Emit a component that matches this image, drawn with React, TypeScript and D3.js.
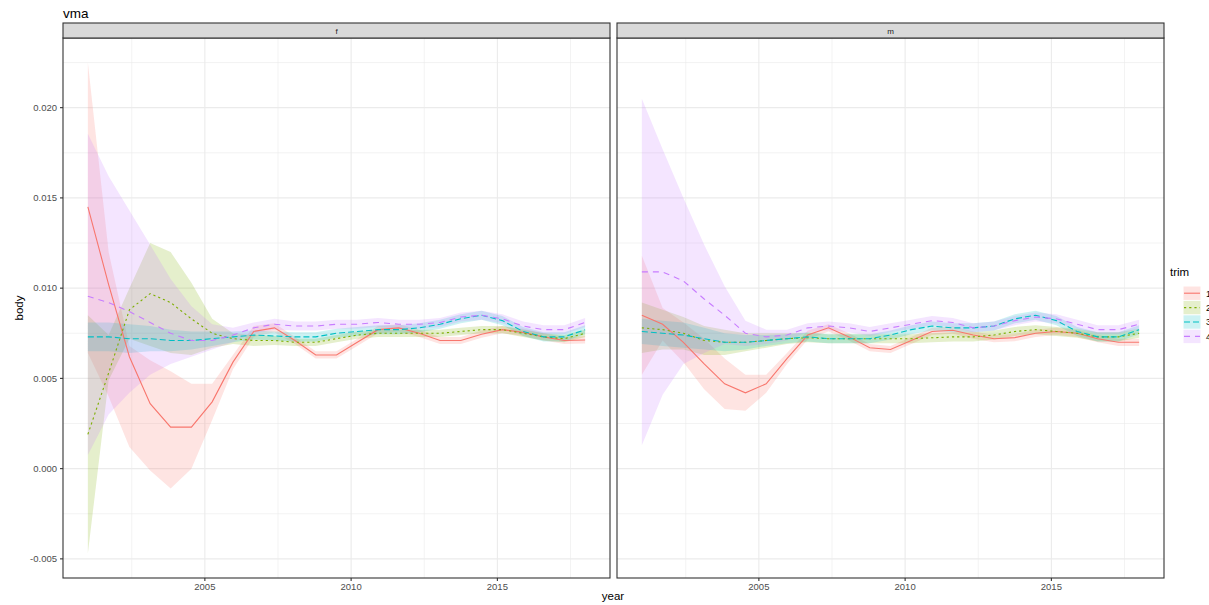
import React from 'react';
import * as d3 from 'd3';

// ---- data ----
const years = [2001.0, 2001.71, 2002.42, 2003.13, 2003.83, 2004.54, 2005.25, 2005.96, 2006.67, 2007.38, 2008.08, 2008.79, 2009.5, 2010.21, 2010.92, 2011.63, 2012.33, 2013.04, 2013.75, 2014.46, 2015.17, 2015.88, 2016.58, 2017.29, 2018.0];
const trims = ['1', '2', '3', '4'];
const panels = ['f', 'm'];
const xTicks = [2005, 2010, 2015];
const yTicks = [-0.005, 0.0, 0.005, 0.01, 0.015, 0.02];
const yTickLabels = ['-0.005', '0.000', '0.005', '0.010', '0.015', '0.020'];

// panel f : mean, distance to upper edge, distance to lower edge
const fMean1 = [0.0145, 0.0102, 0.0062, 0.0036, 0.0023, 0.0023, 0.0037, 0.0059, 0.0076, 0.0078, 0.0071, 0.0063, 0.0063, 0.0070, 0.0077, 0.0078, 0.0075, 0.0071, 0.0071, 0.00745, 0.0077, 0.00755, 0.0073, 0.0071, 0.00713];
const fUp1 = [0.0080, 0.0018, 0.0006, 0.0024, 0.0031, 0.0024, 0.0010, 0.0004, 0.0003, 0.00025, 0.0002, 0.0002, 0.0002, 0.0002, 0.0002, 0.0002, 0.0002, 0.0002, 0.0002, 0.0002, 0.0002, 0.0002, 0.0002, 0.0002, 0.0002];
const fDn1 = [0.0081, 0.0062, 0.0050, 0.0037, 0.0034, 0.0023, 0.0010, 0.0004, 0.0003, 0.00025, 0.0002, 0.0002, 0.0002, 0.0002, 0.0002, 0.0002, 0.0002, 0.0002, 0.0002, 0.0002, 0.0002, 0.0002, 0.0002, 0.0002, 0.0002];
const fMean2 = [0.0019, 0.0053, 0.0088, 0.0097, 0.0092, 0.0083, 0.0075, 0.0072, 0.0071, 0.0071, 0.0070, 0.0070, 0.0072, 0.0074, 0.0075, 0.0075, 0.0075, 0.0075, 0.0076, 0.0077, 0.0077, 0.0075, 0.0073, 0.0072, 0.0075];
const fUp2 = [0.0066, 0.0021, 0.0012, 0.0028, 0.0028, 0.0020, 0.0008, 0.0003, 0.0003, 0.00025, 0.0002, 0.0002, 0.0002, 0.0002, 0.0002, 0.0002, 0.0002, 0.0002, 0.0002, 0.0002, 0.0002, 0.0002, 0.0002, 0.0002, 0.0002];
const fDn2 = [0.0066, 0.0004, 0.0016, 0.0029, 0.0028, 0.0020, 0.0008, 0.0003, 0.0003, 0.00025, 0.0002, 0.0002, 0.0002, 0.0002, 0.0002, 0.0002, 0.0002, 0.0002, 0.0002, 0.0002, 0.0002, 0.0002, 0.0002, 0.0002, 0.0002];
const fMean3 = [0.0073, 0.0073, 0.0072, 0.0072, 0.0071, 0.0071, 0.0072, 0.0073, 0.0074, 0.00735, 0.0073, 0.0073, 0.0075, 0.0076, 0.0077, 0.0077, 0.0078, 0.0080, 0.0083, 0.0085, 0.0082, 0.0076, 0.0073, 0.0073, 0.0077];
const fHw3 = [0.0008, 0.0008, 0.0008, 0.0007, 0.0006, 0.0005, 0.0004, 0.0003, 0.00025, 0.00025, 0.00025, 0.00025, 0.00025, 0.00025, 0.00025, 0.00025, 0.00025, 0.00025, 0.00025, 0.00025, 0.00025, 0.00025, 0.00025, 0.00025, 0.00025];
const fMean4 = [0.00955, 0.0092, 0.0087, 0.0081, 0.0075, 0.0071, 0.0071, 0.0074, 0.0078, 0.0080, 0.0079, 0.0079, 0.0080, 0.0080, 0.0081, 0.0080, 0.0080, 0.0081, 0.0084, 0.0085, 0.0083, 0.0079, 0.0077, 0.0077, 0.0081];
const fUp4 = [0.0090, 0.0070, 0.0056, 0.0043, 0.0030, 0.0019, 0.0009, 0.0004, 0.0003, 0.0003, 0.00025, 0.00025, 0.00025, 0.00025, 0.00025, 0.00025, 0.00025, 0.00025, 0.00025, 0.00025, 0.00025, 0.00025, 0.00025, 0.00025, 0.00025];
const fDn4 = [0.0088, 0.0062, 0.0045, 0.0029, 0.0017, 0.0009, 0.0005, 0.0004, 0.0003, 0.0003, 0.00025, 0.00025, 0.00025, 0.00025, 0.00025, 0.00025, 0.00025, 0.00025, 0.00025, 0.00025, 0.00025, 0.00025, 0.00025, 0.00025, 0.00025];

// panel m : mean and symmetric half-width
const mMean1 = [0.0085, 0.0080, 0.0070, 0.0058, 0.0047, 0.0042, 0.0047, 0.0061, 0.0074, 0.0078, 0.0073, 0.0067, 0.0066, 0.0071, 0.0076, 0.00767, 0.0074, 0.0072, 0.00726, 0.0075, 0.0076, 0.0075, 0.0072, 0.0070, 0.0070];
const mHw1 = [0.0033, 0.0009, 0.0011, 0.0014, 0.0014, 0.0010, 0.0005, 0.0003, 0.00025, 0.0002, 0.0002, 0.0002, 0.0002, 0.0002, 0.0002, 0.0002, 0.0002, 0.0002, 0.0002, 0.0002, 0.0002, 0.0002, 0.0002, 0.0002, 0.0002];
const mMean2 = [0.0078, 0.0077, 0.0075, 0.0071, 0.0070, 0.0070, 0.0071, 0.0072, 0.00725, 0.0072, 0.0072, 0.0072, 0.0072, 0.0072, 0.00725, 0.0073, 0.0073, 0.0074, 0.0076, 0.0077, 0.0076, 0.0075, 0.0073, 0.0073, 0.0075];
const mHw2 = [0.0014, 0.0011, 0.0009, 0.0008, 0.0007, 0.0005, 0.0004, 0.0003, 0.00025, 0.00025, 0.00025, 0.00025, 0.00025, 0.00025, 0.00025, 0.00025, 0.00025, 0.00025, 0.00025, 0.00025, 0.00025, 0.00025, 0.00025, 0.00025, 0.00025];
const mMean3 = [0.0076, 0.0075, 0.0074, 0.0072, 0.0070, 0.0070, 0.0071, 0.0072, 0.0073, 0.0072, 0.0072, 0.0072, 0.0074, 0.0077, 0.0079, 0.0078, 0.0078, 0.0079, 0.0083, 0.0085, 0.0082, 0.0076, 0.0073, 0.0073, 0.0077];
const mHw3 = [0.0007, 0.0007, 0.0007, 0.0006, 0.0005, 0.0004, 0.0003, 0.00025, 0.00025, 0.00025, 0.00025, 0.00025, 0.00025, 0.00025, 0.00025, 0.00025, 0.00025, 0.00025, 0.00025, 0.00025, 0.00025, 0.00025, 0.00025, 0.00025, 0.00025];
const mMean4 = [0.0109, 0.0109, 0.0104, 0.0094, 0.0085, 0.0075, 0.0073, 0.0074, 0.0078, 0.0079, 0.0078, 0.0076, 0.0078, 0.0080, 0.0082, 0.0081, 0.0078, 0.0079, 0.0082, 0.0084, 0.0083, 0.0080, 0.0077, 0.0077, 0.0080];
const mHw4 = [0.0096, 0.0068, 0.0046, 0.0030, 0.0016, 0.0007, 0.0004, 0.0003, 0.00025, 0.00025, 0.00025, 0.00025, 0.00025, 0.00025, 0.00025, 0.00025, 0.00025, 0.00025, 0.00025, 0.00025, 0.00025, 0.00025, 0.00025, 0.00025, 0.00025];

const seriesByPanel = [
  [[fMean1, fUp1, fDn1], [fMean2, fUp2, fDn2], [fMean3, fHw3, fHw3], [fMean4, fUp4, fDn4]],
  [[mMean1, mHw1, mHw1], [mMean2, mHw2, mHw2], [mMean3, mHw3, mHw3], [mMean4, mHw4, mHw4]],
];

// ---- style ----
const colors = ['#F8766D', '#7CAE00', '#00BFC4', '#C77CFF'];
const dashes = ['none', '2.2,3', '6,3', '6,5'];
const FONT = "'Liberation Sans', Arial, Helvetica, sans-serif";

const W = 1209, H = 605;
const panelX = [[63, 610], [617, 1164]];
const plotTop = 38, plotBottom = 578;
const stripTop = 23;

type Pt = { x: number; m: number; lo: number; hi: number };

export default function App() {
  const allLo: number[] = [];
  const allHi: number[] = [];
  seriesByPanel.forEach(ps => ps.forEach(([m, up, dn]) => m.forEach((v, i) => { allLo.push(v - dn[i]); allHi.push(v + up[i]); })));
  const yMin = d3.min(allLo)!, yMax = d3.max(allHi)!;
  const yPad = (yMax - yMin) * 0.05;
  const y = d3.scaleLinear().domain([yMin - yPad, yMax + yPad]).range([plotBottom, plotTop]);
  const [x0, x1] = d3.extent(years) as [number, number];
  const xPad = (x1 - x0) * 0.05;

  const yMinor = [-0.0025, 0.0025, 0.0075, 0.0125, 0.0175, 0.0225];
  const xMinor = [2002.5, 2007.5, 2012.5, 2017.5];

  return (
    <svg width={W} height={H} style={{ position: 'absolute', left: 0, top: 0, fontFamily: FONT }}>
      <rect x={0} y={0} width={W} height={H} fill="#ffffff" />
      <text x={63} y={18} fontSize={13.5} fill="#000">vma</text>
      {panels.map((p, pi) => {
        const x = d3.scaleLinear().domain([x0 - xPad, x1 + xPad]).range(panelX[pi]);
        const [L, R] = panelX[pi];
        const series = seriesByPanel[pi];
        const data: Pt[][] = series.map(([m, up, dn]) => years.map((yr, i) => ({ x: yr, m: m[i], lo: m[i] - dn[i], hi: m[i] + up[i] })));
        const area = d3.area<Pt>().x(d => x(d.x)).y0(d => y(d.lo)).y1(d => y(d.hi));
        const line = d3.line<Pt>().x(d => x(d.x)).y(d => y(d.m));
        return (
          <g key={p}>
            <rect x={L} y={plotTop} width={R - L} height={plotBottom - plotTop} fill="#fff" />
            {yMinor.map(v => y(v) > plotTop && y(v) < plotBottom ? (
              <line key={'ym' + v} x1={L} x2={R} y1={y(v)} y2={y(v)} stroke="#ebebeb" strokeWidth={0.6} />
            ) : null)}
            {xMinor.map(v => (
              <line key={'xm' + v} x1={x(v)} x2={x(v)} y1={plotTop} y2={plotBottom} stroke="#ebebeb" strokeWidth={0.6} />
            ))}
            {yTicks.map(v => (
              <line key={'yM' + v} x1={L} x2={R} y1={y(v)} y2={y(v)} stroke="#ebebeb" strokeWidth={1.1} />
            ))}
            {xTicks.map(v => (
              <line key={'xM' + v} x1={x(v)} x2={x(v)} y1={plotTop} y2={plotBottom} stroke="#ebebeb" strokeWidth={1.1} />
            ))}
            {data.map((d, si) => (
              <path key={'a' + si} d={area(d)!} fill={colors[si]} fillOpacity={0.2} stroke="none" />
            ))}
            {data.map((d, si) => (
              <path key={'l' + si} d={line(d)!} fill="none" stroke={colors[si]} strokeWidth={1.1}
                strokeDasharray={dashes[si]} />
            ))}
            <rect x={L} y={plotTop} width={R - L} height={plotBottom - plotTop} fill="none" stroke="#333333" strokeWidth={1.1} />
            <rect x={L} y={stripTop} width={R - L} height={plotTop - stripTop} fill="#d9d9d9" stroke="#333333" strokeWidth={1.1} />
            <text x={(L + R) / 2} y={33.5} fontSize={8} fill="#1a1a1a" textAnchor="middle">{p}</text>
            {xTicks.map(v => (
              <g key={'xt' + v}>
                <line x1={x(v)} x2={x(v)} y1={plotBottom} y2={plotBottom + 3} stroke="#333333" strokeWidth={1.1} />
                <text x={x(v)} y={plotBottom + 12} fontSize={9.5} fill="#4d4d4d" textAnchor="middle">{v}</text>
              </g>
            ))}
          </g>
        );
      })}
      {yTicks.map((v, i) => (
        <g key={'yt' + v}>
          <line x1={60} x2={63} y1={y(v)} y2={y(v)} stroke="#333333" strokeWidth={1.1} />
          <text x={57} y={y(v) + 3.3} fontSize={9.5} fill="#4d4d4d" textAnchor="end">{yTickLabels[i]}</text>
        </g>
      ))}
      <text x={613} y={600} fontSize={11.5} fill="#000" textAnchor="middle">year</text>
      <text transform={`translate(23,${(plotTop + plotBottom) / 2}) rotate(-90)`} fontSize={11.5} fill="#000" textAnchor="middle">body</text>
      <g>
        <text x={1170} y={276} fontSize={11.5} fill="#000">trim</text>
        {trims.map((t, i) => {
          const ky = 286 + i * 14.4;
          return (
            <g key={'lg' + t}>
              <rect x={1183} y={ky} width={18} height={14.4} fill="#fff" />
              <rect x={1183.5} y={ky + 0.5} width={17} height={13.4} fill={colors[i]} fillOpacity={0.2} />
              <line x1={1184} x2={1200} y1={ky + 7.2} y2={ky + 7.2} stroke={colors[i]} strokeWidth={1.1} strokeDasharray={dashes[i]} />
              <text x={1206} y={ky + 10.5} fontSize={9} fill="#000">{t}</text>
            </g>
          );
        })}
      </g>
    </svg>
  );
}
